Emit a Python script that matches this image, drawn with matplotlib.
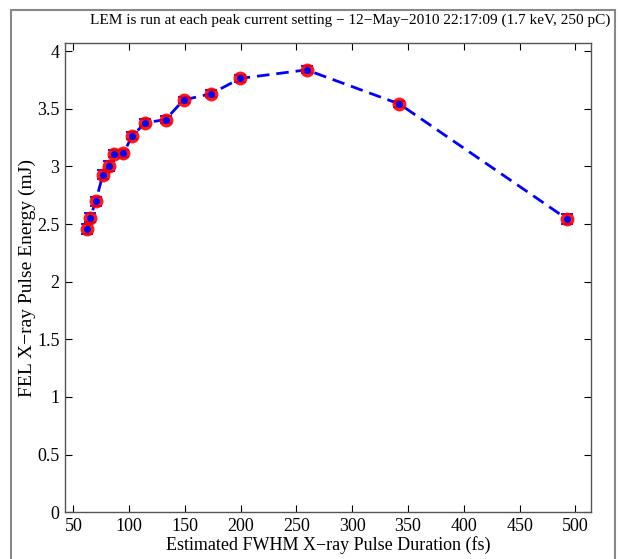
import matplotlib.pyplot as plt
from matplotlib.patches import Rectangle

plt.rcParams['font.family'] = ['Liberation Serif', 'DejaVu Serif']

# estimated FWHM pulse duration (fs) and FEL pulse energy (mJ)
duration = [62.6, 65.0, 70.1, 76.4, 81.8, 86.6, 94.9, 102.7, 114.5, 132.6,
            148.8, 173.4, 199.7, 259.0, 342.3, 492.5]
energy = [2.457, 2.555, 2.697, 2.928, 3.003, 3.108, 3.114, 3.264, 3.379, 3.405,
          3.576, 3.630, 3.763, 3.837, 3.541, 2.544]
energy_err = [0.04, 0.04, 0.04, 0.04, 0.04, 0.03, 0.03, 0.03, 0.03, 0.03,
              0.03, 0.03, 0.03, 0.03, 0.03, 0.04]

xticks = [50, 100, 150, 200, 250, 300, 350, 400, 450, 500]
yticks = [0, 0.5, 1, 1.5, 2, 2.5, 3, 3.5, 4]
ytick_labels = ['0', '0.5', '1', '1.5', '2', '2.5', '3', '3.5', '4']

fig = plt.figure(figsize=(6.21, 5.59), dpi=100)
# window frame around the figure
fig.patches.append(Rectangle((11 / 621, -0.1), 604 / 621, 1.1 - 10 / 559,
                             transform=fig.transFigure, fill=False,
                             edgecolor='#888888', linewidth=1.5))

ax = fig.add_axes([65 / 621, 1 - 512.3 / 559, 526 / 621, 469.3 / 559])

ax.errorbar(duration, energy, yerr=energy_err, fmt='none', ecolor='blue',
            elinewidth=1.3, capsize=4, capthick=1.3, zorder=2)
ax.plot(duration, energy, '--', color='blue', linewidth=2, dashes=(4.5, 2.5),
        zorder=3)
ax.plot(duration, energy, 'o', color='red', markersize=10, markeredgewidth=0,
        alpha=0.9, zorder=4)
ax.plot(duration, energy, 'o', color='blue', markersize=5, markeredgewidth=0,
        zorder=5)

ax.set_xlim(42.5, 514)
ax.set_ylim(0, 4.07)
ax.set_xticks(xticks)
ax.set_yticks(yticks)
ax.set_yticklabels(ytick_labels)
ax.tick_params(direction='in', length=5, width=0.8, labelsize=13, pad=4,
               top=True, right=True)
for side in ax.spines.values():
    side.set_color('#555555')
    side.set_linewidth(1)

ax.set_xlabel('Estimated FWHM X\u2212ray Pulse Duration (fs)', fontsize=13,
              labelpad=1)
ax.set_ylabel('FEL X\u2212ray Pulse Energy (mJ)', fontsize=14, labelpad=1)
ax.text(0.542, 1.035, 'LEM is run at each peak current setting \u2212 '
        '12\u2212May\u22122010 22:17:09 (1.7 keV, 250 pC)',
        transform=ax.transAxes, ha='center', va='bottom', fontsize=11)

plt.savefig('out.png', dpi=100)
